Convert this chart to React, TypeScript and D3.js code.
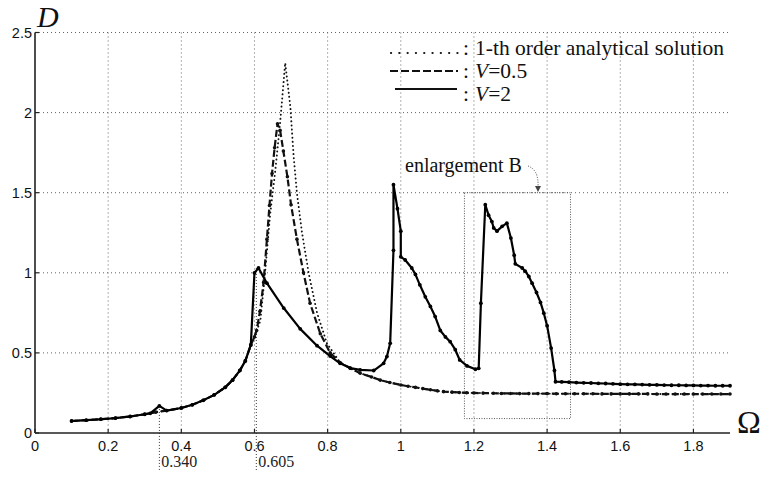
import * as d3 from 'd3'

// shared low-frequency branch (all three curves lie on top of each other)
const baseOmega = [0.1, 0.14, 0.18, 0.22, 0.26, 0.3, 0.33, 0.36, 0.4, 0.43, 0.46, 0.49, 0.52, 0.54, 0.56, 0.575, 0.59]
const baseD = [0.075, 0.08, 0.086, 0.093, 0.103, 0.117, 0.13, 0.14, 0.156, 0.176, 0.204, 0.238, 0.285, 0.33, 0.39, 0.45, 0.55]

// shared high-frequency tail of the analytical solution and V=0.5
const tailOmega = [
  0.834, 0.862, 0.889, 0.92, 0.944, 0.97, 1.0, 1.02, 1.04, 1.06, 1.081, 1.1, 1.117, 1.14, 1.16, 1.18, 1.2, 1.225, 1.253, 1.275, 1.3, 1.325,
  1.35, 1.375, 1.4, 1.425, 1.45, 1.475, 1.5, 1.525, 1.55, 1.575, 1.6, 1.625, 1.65, 1.675, 1.7, 1.725, 1.75, 1.775, 1.8, 1.825, 1.85, 1.875, 1.9,
]
const tailD = [
  0.44, 0.404, 0.373, 0.35, 0.33, 0.315, 0.3, 0.292, 0.285, 0.277, 0.27, 0.263, 0.258, 0.255, 0.253, 0.251, 0.25, 0.249, 0.248, 0.247, 0.247, 0.246,
  0.246, 0.246, 0.246, 0.245, 0.245, 0.245, 0.245, 0.245, 0.244, 0.244, 0.244, 0.244, 0.244, 0.244, 0.243, 0.243, 0.243, 0.243, 0.243, 0.243, 0.243, 0.243, 0.243,
]

// 1-th order analytical solution, resonance part
const analyticOmega = [0.6, 0.616, 0.629, 0.643, 0.657, 0.67, 0.677, 0.684, 0.698, 0.707, 0.716, 0.73, 0.748, 0.771, 0.798]
const analyticD = [0.6, 0.7, 1.0, 1.37, 1.64, 1.935, 2.12, 2.31, 2.04, 1.73, 1.5, 1.25, 1.0, 0.75, 0.56]

// V = 0.5, resonance part
const v05Omega = [0.6, 0.606, 0.615, 0.625, 0.634, 0.641, 0.648, 0.655, 0.663, 0.67, 0.679, 0.69, 0.7, 0.716, 0.734, 0.752, 0.78, 0.807]
const v05D = [0.6, 0.64, 0.76, 0.94, 1.21, 1.42, 1.62, 1.78, 1.93, 1.89, 1.76, 1.6, 1.425, 1.21, 1.0, 0.81, 0.62, 0.5]

// V = 2, whole curve
const v2Omega = [
  0.1, 0.14, 0.18, 0.22, 0.26, 0.3, 0.315, 0.34, 0.36, 0.4, 0.43, 0.46, 0.49, 0.52, 0.54, 0.56, 0.575, 0.59,
  0.6, 0.611, 0.634, 0.68, 0.725, 0.771, 0.807, 0.834, 0.862, 0.889, 0.926, 0.953, 0.962, 0.971,
  0.98, 0.98, 0.991, 1.0, 1.0, 1.012, 1.03, 1.04, 1.052, 1.067, 1.081, 1.094, 1.108, 1.122, 1.135, 1.149, 1.161, 1.181, 1.204, 1.213,
  1.219, 1.231, 1.24, 1.249, 1.254, 1.263, 1.277, 1.29, 1.301, 1.31, 1.313, 1.332, 1.34, 1.35, 1.359, 1.371, 1.382, 1.391, 1.4, 1.411, 1.42,
  1.423, 1.44, 1.46, 1.48, 1.5, 1.52, 1.54, 1.56, 1.58, 1.6, 1.62, 1.64, 1.66, 1.68, 1.7, 1.72, 1.74, 1.76, 1.78, 1.8, 1.82, 1.84, 1.86, 1.88, 1.9,
]
const v2D = [
  0.075, 0.08, 0.086, 0.093, 0.103, 0.117, 0.123, 0.169, 0.14, 0.156, 0.176, 0.204, 0.238, 0.285, 0.33, 0.39, 0.45, 0.55,
  1.0, 1.03, 0.935, 0.78, 0.65, 0.545, 0.48, 0.435, 0.405, 0.394, 0.39, 0.435, 0.477, 0.56,
  1.14, 1.55, 1.4, 1.26, 1.1, 1.08, 1.03, 0.99, 0.925, 0.85, 0.79, 0.727, 0.64, 0.6, 0.57, 0.52, 0.456, 0.419, 0.398, 0.404,
  0.81, 1.425, 1.36, 1.32, 1.28, 1.26, 1.29, 1.31, 1.217, 1.11, 1.056, 1.03, 1.01, 0.977, 0.935, 0.877, 0.815, 0.748, 0.67, 0.53, 0.39,
  0.32, 0.319, 0.317, 0.315, 0.313, 0.312, 0.31, 0.309, 0.307, 0.305, 0.304, 0.303, 0.302, 0.301, 0.3, 0.299, 0.298, 0.298, 0.297, 0.297, 0.296, 0.296, 0.295, 0.295, 0.295,
]

const xTicks = [0, 0.2, 0.4, 0.6, 0.8, 1, 1.2, 1.4, 1.6, 1.8]
const yTicks = [0, 0.5, 1, 1.5, 2, 2.5]
const markedOmega = [0.34, 0.605]
const markedLabel = ['0.340', '0.605']
const markedTop = [0.169, 1.03]
// enlargement B box: [omega0, omega1, d0, d1]
const enlargementB = [1.174, 1.464, 0.09, 1.5]

const W = 763
const H = 477
const serif = '"Liberation Serif", "Times New Roman", serif'
const sans = '"Liberation Sans", Arial, sans-serif'

const zip = (xs: number[], ys: number[]) => xs.map((v, i) => [v, ys[i]] as [number, number])

export default function App() {
  const x = d3.scaleLinear().domain([0, 1.9]).range([35, 730])
  const y = d3.scaleLinear().domain([0, 2.5]).range([433, 32.5])
  const line = d3
    .line<[number, number]>()
    .x((d) => x(d[0]))
    .y((d) => y(d[1]))

  const base = zip(baseOmega, baseD)
  const tail = zip(tailOmega, tailD)
  const analytic = [...base, ...zip(analyticOmega, analyticD), ...tail]
  const v05 = [...base, ...zip(v05Omega, v05D), ...tail]
  const v2 = zip(v2Omega, v2D)

  const [bx0, bx1, by0, by1] = enlargementB

  return (
    <svg width={W} height={H} style={{ position: 'absolute', left: 0, top: 0, background: '#fff' }}>
      <rect width={W} height={H} fill="#fff" />
      {/* grid */}
      <g stroke="#666" strokeWidth={1} strokeDasharray="1,3">
        {xTicks.filter((t) => t > 0).map((t) => (
          <line key={'gx' + t} x1={x(t)} x2={x(t)} y1={y(2.5)} y2={y(0)} />
        ))}
        {yTicks.filter((t) => t > 0).map((t) => (
          <line key={'gy' + t} x1={x(0)} x2={x(1.9)} y1={y(t)} y2={y(t)} />
        ))}
      </g>

      {/* marked frequencies */}
      <g stroke="#333" strokeWidth={1} strokeDasharray="1,2">
        {markedOmega.map((m, i) => (
          <line key={'m' + m} x1={x(m)} x2={x(m)} y1={y(markedTop[i])} y2={470} />
        ))}
      </g>
      {markedOmega.map((m, i) => (
        <text key={'ml' + m} x={x(m) + 2} y={467} fontFamily={serif} fontSize={16} fill="#222">
          {markedLabel[i]}
        </text>
      ))}

      {/* enlargement box */}
      <rect
        x={x(bx0)}
        y={y(by1)}
        width={x(bx1) - x(bx0)}
        height={y(by0) - y(by1)}
        fill="none"
        stroke="#555"
        strokeWidth={1}
        strokeDasharray="1,1.5"
      />
      <text x={405} y={172} fontFamily={serif} fontSize={20} fill="#111">
        enlargement B
      </text>
      <path d="M528,166 Q539,170 538,187" fill="none" stroke="#444" strokeWidth={1} strokeDasharray="1,1.5" />
      <path d="M535,186 L538,192 L541,186 Z" fill="#444" />

      {/* axes */}
      <g stroke="#222" strokeWidth={1.6}>
        <line x1={x(0)} x2={x(0)} y1={y(2.5)} y2={y(0)} />
        <line x1={x(0)} x2={x(1.9)} y1={y(0)} y2={y(0)} />
        {xTicks.map((t) => (
          <line key={'tx' + t} x1={x(t)} x2={x(t)} y1={y(0)} y2={y(0) - 4} strokeWidth={1.2} />
        ))}
        {yTicks.map((t) => (
          <line key={'ty' + t} x1={x(0)} x2={x(0) + 4} y1={y(t)} y2={y(t)} strokeWidth={1.2} />
        ))}
      </g>
      <g fontFamily={sans} fontSize={14.5} fill="#111">
        {xTicks.map((t) => (
          <text key={'lx' + t} x={x(t)} y={451} textAnchor="middle">
            {String(t)}
          </text>
        ))}
        {yTicks.map((t) => (
          <text key={'ly' + t} x={32} y={y(t) + 5} textAnchor="end">
            {String(t)}
          </text>
        ))}
      </g>
      <text x={37} y={27} fontFamily={serif} fontStyle="italic" fontSize={30} fill="#111">
        D
      </text>
      <text x={737} y={433} fontFamily={serif} fontSize={32} fill="#111">
        Ω
      </text>

      {/* curves */}
      <path
        d={line(analytic) ?? ''}
        fill="none"
        stroke="#111"
        strokeWidth={1.9}
        strokeDasharray="0.1,4"
        strokeLinecap="round"
      />
      <path d={line(v05) ?? ''} fill="none" stroke="#111" strokeWidth={2.2} strokeDasharray="7,3" />
      <g fill="#111">
        {v05.map((d, i) => (
          <circle key={'c05' + i} cx={x(d[0])} cy={y(d[1])} r={1.8} />
        ))}
      </g>
      <path d={line(v2) ?? ''} fill="none" stroke="#000" strokeWidth={2.2} strokeLinejoin="round" />
      <g fill="#000">
        {v2.map((d, i) => (
          <circle key={'c2' + i} cx={x(d[0])} cy={y(d[1])} r={1.9} />
        ))}
      </g>

      {/* legend */}
      <g fontFamily={serif} fontSize={21.5} fill="#111">
        <line x1={391} x2={458} y1={53} y2={53} stroke="#111" strokeWidth={2.2} strokeDasharray="0.1,8.2" strokeLinecap="round" />
        <text x={463} y={55}>:</text>
        <text x={475} y={55}>1-th order analytical solution</text>
        <line x1={390} x2={458} y1={71} y2={71} stroke="#111" strokeWidth={2.2} strokeDasharray="8,3" />
        <text x={463} y={78}>:</text>
        <text x={475} y={78}>
          <tspan fontStyle="italic">V</tspan>=0.5
        </text>
        <line x1={395} x2={457} y1={89} y2={89} stroke="#111" strokeWidth={2.2} />
        <text x={463} y={101}>:</text>
        <text x={475} y={101}>
          <tspan fontStyle="italic">V</tspan>=2
        </text>
      </g>
    </svg>
  )
}
